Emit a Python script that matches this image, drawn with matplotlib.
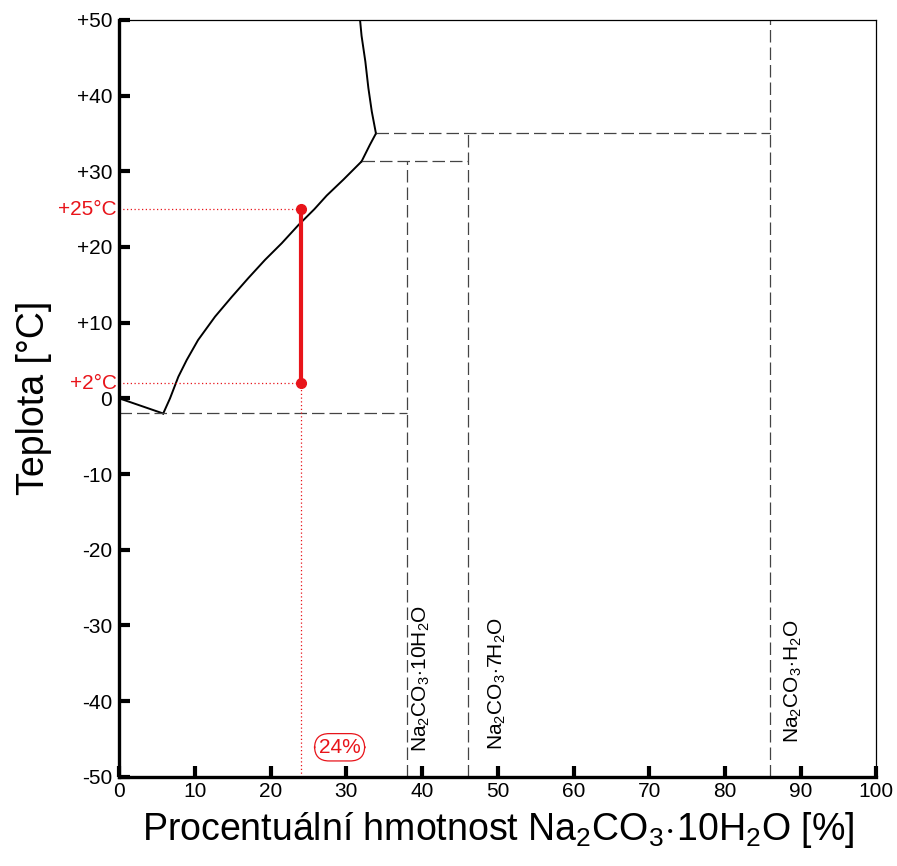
import matplotlib
matplotlib.use("Agg")
import matplotlib.pyplot as plt

plt.rcParams["font.family"] = ["Liberation Sans", "DejaVu Sans"]
plt.rcParams["mathtext.fontset"] = "custom"
plt.rcParams["mathtext.rm"] = "Liberation Sans"
plt.rcParams["mathtext.it"] = "Liberation Sans"

# phase boundaries (mass % vs temperature)
ice_x = [0, 5.8]
ice_y = [0, -2.0]
deca_x = [5.8, 6.7, 7.8, 8.9, 10.4, 12.65, 14.85, 17.05, 19.25, 21.46,
          23.66, 25.77, 27.4, 29.6, 32.0]
deca_y = [-2.0, 0.0, 2.86, 5.06, 7.7, 10.8, 13.4, 15.9, 18.3, 20.5,
          22.9, 25.0, 26.8, 28.9, 31.3]
hepta_x = [32.0, 33.1, 33.9]
hepta_y = [31.3, 33.5, 35.0]
mono_x = [33.9, 33.35, 32.9, 32.5, 32.0, 31.8]
mono_y = [35.0, 37.9, 41.0, 44.5, 47.9, 50.0]

# invariant points and hydrate compositions
t_eut = -2.0
t_10_7 = 31.3
t_7_1 = 35.0
x_deca = 38
x_hepta = 46
x_mono = 86
hydrate_labels = [r"Na$_2$CO$_3\!\cdot\!$10H$_2$O",
                  r"Na$_2$CO$_3\!\cdot\!$7H$_2$O",
                  r"Na$_2$CO$_3\!\cdot\!$H$_2$O"]
label_x = [39.9, 50.0, 89.1]
label_y = [-46.7, -46.5, -45.5]

# cooling example
conc = 24
t_hot = 25
t_cold = 2

yticks = [50, 40, 30, 20, 10, 0, -10, -20, -30, -40, -50]
ytick_labels = ["+50", "+40", "+30", "+20", "+10", "0",
                "-10", "-20", "-30", "-40", "-50"]
xticks = list(range(0, 101, 10))

fig = plt.figure(figsize=(8.97, 8.66), dpi=100)
ax = fig.add_axes([0.133, 0.103, 0.844, 0.874])

dash = dict(color="#444444", lw=0.9, ls=(0, (10, 4)))

# boundary curves
ax.plot(ice_x, ice_y, color="black", lw=1.4)
ax.plot(deca_x, deca_y, color="black", lw=1.4)
ax.plot(hepta_x, hepta_y, color="black", lw=1.4)
ax.plot(mono_x, mono_y, color="black", lw=1.4)

# eutectic / peritectic horizontals and hydrate verticals
ax.plot([0, x_deca], [t_eut, t_eut], **dash)
ax.plot([deca_x[-1], x_hepta], [t_10_7, t_10_7], **dash)
ax.plot([hepta_x[-1], x_mono], [t_7_1, t_7_1], **dash)
ax.plot([x_deca, x_deca], [-50, t_10_7], **dash)
ax.plot([x_hepta, x_hepta], [-50, t_7_1], **dash)
ax.plot([x_mono, x_mono], [-50, 50], **dash)

for lx, ly, txt in zip(label_x, label_y, hydrate_labels):
    ax.text(lx, ly, txt, rotation=90, ha="center", va="bottom",
            fontsize=15, color="black")

# cooling path at 24 %
red = "#e8141a"
dot = dict(color=red, lw=0.9, ls=(0, (1, 2)))
ax.plot([0, conc], [t_hot, t_hot], **dot)
ax.plot([0, conc], [t_cold, t_cold], **dot)
ax.plot([conc, conc], [-50, t_cold], **dot)
ax.plot([conc, conc], [t_cold, t_hot], color=red, lw=3, marker="o",
        markersize=7, zorder=5)

ax.text(-0.3, t_hot, "+25°C", color=red, fontsize=15, ha="right",
        va="center")
ax.text(-0.3, t_cold, "+2°C", color=red, fontsize=15, ha="right",
        va="center")
ax.text(29.1, -46.1, "24%", color=red, fontsize=15, ha="center",
        va="center",
        bbox=dict(boxstyle="round,pad=0.2,rounding_size=0.7",
                  facecolor="white", edgecolor=red, lw=0.9))

ax.set_xlim(0, 100)
ax.set_ylim(-50, 50)
ax.set_xticks(xticks)
ax.set_yticks(yticks)
ax.set_yticklabels(ytick_labels)
ax.tick_params(direction="in", length=8, width=3, labelsize=15, pad=5)
ax.tick_params(axis="x", pad=4)

ax.spines["left"].set_linewidth(2.4)
ax.spines["bottom"].set_linewidth(2.4)
ax.spines["top"].set_linewidth(0.9)
ax.spines["right"].set_linewidth(0.9)

ax.set_xlabel(r"Procentuální hmotnost Na$_2$CO$_3\!\cdot\!$10H$_2$O [%]",
              fontsize=27, labelpad=6)
ax.set_ylabel("Teplota [°C]", fontsize=27, labelpad=18)

fig.savefig("out.png", dpi=100)
